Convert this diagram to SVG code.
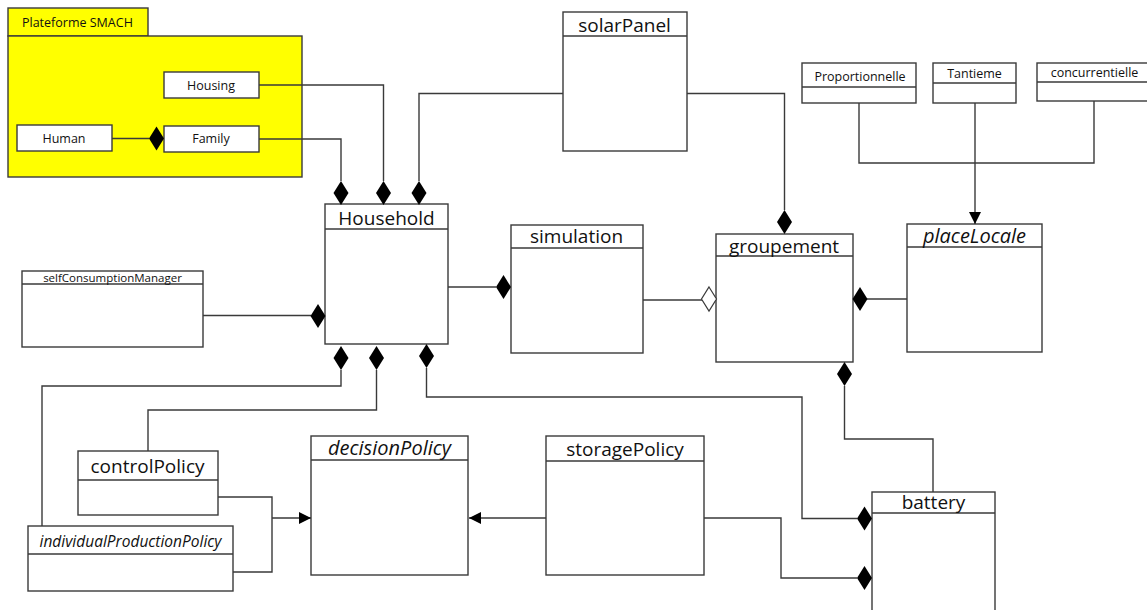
<svg xmlns="http://www.w3.org/2000/svg" xmlns:xlink="http://www.w3.org/1999/xlink" width="1147" height="610" viewBox="0 0 1147 610">
<style>
.box{fill:#fff;stroke:#3a3a3a;stroke-width:1.4}
.hd{stroke:#3a3a3a;stroke-width:1.4}
.pkg{fill:#ffff00;stroke:#3a3a3a;stroke-width:1.4}
.t{font-family:"Open Sans","Liberation Sans",sans-serif;fill:#111;text-anchor:middle}
.big{font-size:19px}
.bigi{font-size:20px;font-style:italic}
.it{font-style:italic}
.sm{font-size:12.5px}
.xs{font-size:11.5px}
.ln{fill:none;stroke:#3a3a3a;stroke-width:1.4}
.dia{fill:#000}
.hdia{fill:#fff;stroke:#3a3a3a;stroke-width:1.2}
</style>
<defs>
<path id="dm" d="M0,-12 L7.5,0 L0,12 L-7.5,0 Z"/>
<marker id="arr" viewBox="0 0 12 12" refX="12" refY="6" markerWidth="12" markerHeight="12" markerUnits="userSpaceOnUse" orient="auto">
<path d="M0,0 L12,6 L0,12 Z" fill="#000"/>
</marker>
</defs>

<g id="plateforme">
<rect class="pkg" x="8" y="8" width="140" height="28"/>
<rect class="pkg" x="8" y="36" width="294" height="141"/>
<text class="t sm" x="22" y="27" style="text-anchor:start">Plateforme SMACH</text>
</g>
<g id="housing">
<rect class="box" x="164" y="72" width="95" height="26"/>
<text class="t sm" x="211" y="90">Housing</text>
</g>
<g id="human">
<rect class="box" x="17" y="125" width="95" height="26"/>
<text class="t sm" x="64" y="143">Human</text>
</g>
<g id="family">
<rect class="box" x="164" y="126" width="95" height="26"/>
<text class="t sm" x="211" y="143">Family</text>
</g>

<g id="household">
<rect class="box" x="325" y="204" width="123" height="140"/>
<line class="hd" x1="325" y1="229" x2="448" y2="229"/>
<text class="t big" x="386.5" y="225">Household</text>
</g>
<g id="solarPanel">
<rect class="box" x="563" y="12" width="124" height="139"/>
<line class="hd" x1="563" y1="36" x2="687" y2="36"/>
<text class="t big" x="624.5" y="32">solarPanel</text>
</g>
<g id="simulation">
<rect class="box" x="511" y="225" width="132" height="128"/>
<line class="hd" x1="511" y1="248" x2="643" y2="248"/>
<text class="t big" x="576.5" y="243">simulation</text>
</g>
<g id="groupement">
<rect class="box" x="716" y="234" width="137" height="128"/>
<line class="hd" x1="716" y1="256" x2="853" y2="256"/>
<text class="t big" x="784" y="253">groupement</text>
</g>
<g id="placeLocale">
<rect class="box" x="907" y="224" width="135" height="128"/>
<line class="hd" x1="907" y1="247" x2="1042" y2="247"/>
<text class="t bigi" x="974.5" y="243">placeLocale</text>
</g>
<g id="proportionnelle">
<rect class="box" x="802" y="63" width="114" height="40"/>
<line class="hd" x1="802" y1="87" x2="916" y2="87"/>
<text class="t sm" x="860" y="81">Proportionnelle</text>
</g>
<g id="tantieme">
<rect class="box" x="933" y="63" width="83" height="40"/>
<line class="hd" x1="933" y1="83" x2="1016" y2="83"/>
<text class="t sm" x="974.5" y="78">Tantieme</text>
</g>
<g id="concurrentielle">
<rect class="box" x="1037" y="63" width="115" height="38"/>
<line class="hd" x1="1037" y1="82" x2="1152" y2="82"/>
<text class="t sm" x="1094.5" y="77">concurrentielle</text>
</g>
<g id="selfConsumptionManager">
<rect class="box" x="22" y="271" width="181" height="76"/>
<line class="hd" x1="22" y1="284" x2="203" y2="284"/>
<text class="t xs" x="112.5" y="282">selfConsumptionManager</text>
</g>
<g id="controlPolicy">
<rect class="box" x="78" y="451" width="140" height="64"/>
<line class="hd" x1="78" y1="480" x2="218" y2="480"/>
<text class="t big" x="147.5" y="473">controlPolicy</text>
</g>
<g id="individualProductionPolicy">
<rect class="box" x="28" y="526" width="205" height="65"/>
<line class="hd" x1="28" y1="554" x2="233" y2="554"/>
<text class="t it" style="font-size:15.5px" x="130.5" y="547">individualProductionPolicy</text>
</g>
<g id="decisionPolicy">
<rect class="box" x="311" y="436" width="157" height="139"/>
<line class="hd" x1="311" y1="460" x2="468" y2="460"/>
<text class="t bigi" x="389.5" y="455">decisionPolicy</text>
</g>
<g id="storagePolicy">
<rect class="box" x="546" y="436" width="158" height="139"/>
<line class="hd" x1="546" y1="461" x2="704" y2="461"/>
<text class="t big" x="625" y="456">storagePolicy</text>
</g>
<g id="battery">
<rect class="box" x="872" y="492" width="123" height="130"/>
<line class="hd" x1="872" y1="513" x2="995" y2="513"/>
<text class="t big" x="933.5" y="509">battery</text>
</g>

<g id="connectors">
<path class="ln" d="M112,138.5 H149"/>
<use href="#dm" class="dia" x="156.5" y="138.5"/>
<path class="ln" d="M259,85 H383.5 V181"/>
<use href="#dm" class="dia" x="383.5" y="193"/>
<path class="ln" d="M259,139 H341 V181"/>
<use href="#dm" class="dia" x="341" y="193"/>
<path class="ln" d="M563,93.5 H419 V181"/>
<use href="#dm" class="dia" x="419" y="193"/>
<path class="ln" d="M687,93.5 H784.5 V210"/>
<use href="#dm" class="dia" x="784.5" y="222"/>
<path class="ln" d="M448,287 H496"/>
<use href="#dm" class="dia" x="503.5" y="287"/>
<path class="ln" d="M643,300 H702"/>
<use href="#dm" class="hdia" x="709" y="299"/>
<path class="ln" d="M907,299 H867"/>
<use href="#dm" class="dia" x="860" y="299"/>
<path class="ln" d="M859,103 V163 H1094 V101"/>
<path class="ln" d="M975,103 V224" marker-end="url(#arr)"/>
<path class="ln" d="M203,315.5 H311"/>
<use href="#dm" class="dia" x="318" y="316"/>
<path class="ln" d="M341,370 V386 H42 V526"/>
<use href="#dm" class="dia" x="341" y="358"/>
<path class="ln" d="M376.5,370 V410 H148 V451"/>
<use href="#dm" class="dia" x="376.5" y="358"/>
<path class="ln" d="M426.5,368 V397 H802 V518.5 H857"/>
<use href="#dm" class="dia" x="426.5" y="356"/>
<use href="#dm" class="dia" x="864.5" y="518.5"/>
<path class="ln" d="M844.5,386 V439 H933 V492"/>
<use href="#dm" class="dia" x="844.5" y="374"/>
<path class="ln" d="M704,518 H781 V578 H857"/>
<use href="#dm" class="dia" x="864.5" y="578"/>
<path class="ln" d="M546,518 H469" marker-end="url(#arr)"/>
<path class="ln" d="M218,497 H272 V572 H233 M272,518 H311" marker-end="url(#arr)"/>
</g>
</svg>
